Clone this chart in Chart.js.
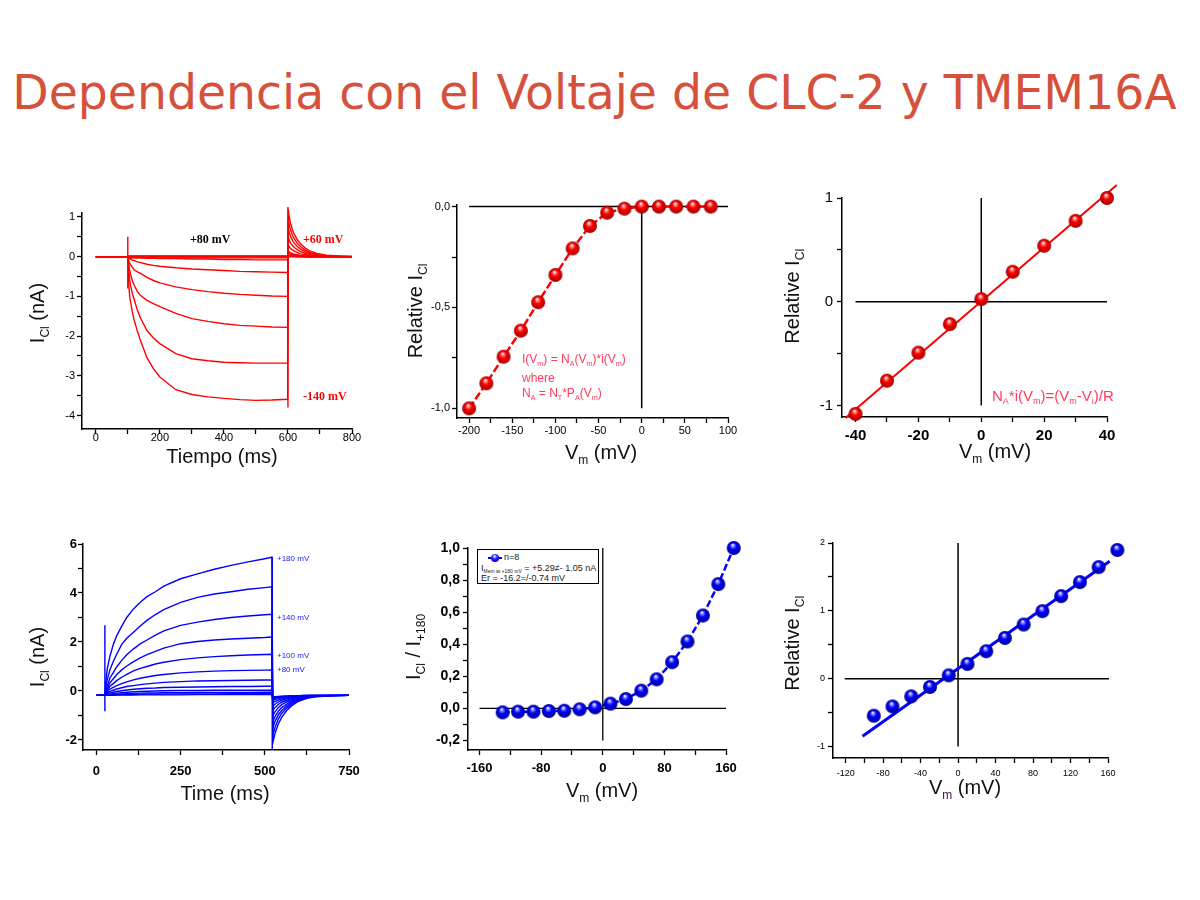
<!DOCTYPE html>
<html lang="es">
<head>
<meta charset="utf-8">
<title>Dependencia con el Voltaje de CLC-2 y TMEM16A</title>
<script src="https://cdn.jsdelivr.net/npm/chart.js@4.4.1/dist/chart.umd.min.js"></script>
<style>
  body { margin: 0; background: #fff; }
  #slide { position: relative; width: 1200px; height: 900px; overflow: hidden; font-family: "Liberation Sans", Arial, sans-serif; color: #111; }
  #slide h1 { position: absolute; left: 0; top: 69px; width: 1189px; margin: 0; text-align: center; font: normal 47.3px/48px "DejaVu Sans", sans-serif; color: #d6513c; white-space: nowrap; }
  canvas { position: absolute; }
  .t { position: absolute; z-index: 2; white-space: nowrap; font-size: 20px; line-height: 20px; transform: translate(-50%, -50%); }
  .t.rot { transform: translate(-50%, -50%) rotate(-90deg); }
  sub { font-size: 0.6em; vertical-align: -0.4em; line-height: 0; }
  .note { position: absolute; z-index: 2; white-space: nowrap; line-height: 1; transform: translateY(-50%); }
  .serif { font: bold 12px "Liberation Serif", "Times New Roman", serif; }
  .pink { color: #ff3a5a; }
  .tag { font-size: 8px; color: #2020ff; }
  #legend { position: absolute; z-index: 2; left: 477px; top: 549px; width: 120px; height: 33px; border: 1.5px solid #000; background: #fff; font-size: 9px; color: #222; }
  #legend .row { position: absolute; left: 3px; white-space: nowrap; line-height: 1; }
  #legend .ln { position: absolute; left: 10px; top: 7px; width: 14px; height: 2px; background: #0000ff; }
  #legend .bl { position: absolute; left: 13px; top: 4px; width: 8px; height: 8px; border-radius: 50%; background: radial-gradient(circle at 45% 30%, #fff 0, #4040ff 30%, #0000e0 60%, #000090 100%); }
</style>
</head>
<body>
<div id="slide">
  <h1>Dependencia con el Voltaje de CLC-2 y TMEM16A</h1>

  <!-- panel 1 -->
  <div class="t rot" style="left:37px;top:313px">I<sub>Cl</sub> (nA)</div>
  <div class="t" style="left:222px;top:456px">Tiempo (ms)</div>
  <div class="note serif" style="left:190px;top:239px;color:#000">+80 mV</div>
  <div class="note serif" style="left:303px;top:239px;color:#ff0000">+60 mV</div>
  <div class="note serif" style="left:303px;top:396px;color:#ff0000">-140 mV</div>

  <!-- panel 2 -->
  <div class="t rot" style="left:415px;top:311px">Relative I<sub>Cl</sub></div>
  <div class="t" style="left:601px;top:452px">V<sub>m</sub> (mV)</div>
  <div class="note pink" style="left:522px;top:359px;font-size:12px">I(V<sub>m</sub>) = N<sub>A</sub>(V<sub>m</sub>)*i(V<sub>m</sub>)</div>
  <div class="note pink" style="left:522px;top:378px;font-size:12px">where</div>
  <div class="note pink" style="left:522px;top:393px;font-size:12px">N<sub>A</sub> = N<sub>T</sub>*P<sub>A</sub>(V<sub>m</sub>)</div>

  <!-- panel 3 -->
  <div class="t rot" style="left:792px;top:296px">Relative I<sub>CI</sub></div>
  <div class="t" style="left:995px;top:451px">V<sub>m</sub> (mV)</div>
  <div class="note pink" style="left:992px;top:395px;font-size:15px">N<sub>A</sub>*i(V<sub>m</sub>)=(V<sub>m</sub>-V<sub>i</sub>)/R</div>

  <!-- panel 4 -->
  <div class="t rot" style="left:37px;top:657px">I<sub>Cl</sub> (nA)</div>
  <div class="t" style="left:225px;top:793px">Time (ms)</div>
  <div class="note tag" style="left:277px;top:559px">+180 mV</div>
  <div class="note tag" style="left:277px;top:618px">+140 mV</div>
  <div class="note tag" style="left:277px;top:656px">+100 mV</div>
  <div class="note tag" style="left:277px;top:670px">+80 mV</div>

  <!-- panel 5 -->
  <div class="t rot" style="left:413px;top:647px">I<sub>Cl</sub> / I<sub>+180</sub></div>
  <div class="t" style="left:602px;top:790px">V<sub>m</sub> (mV)</div>
  <div id="legend">
    <div class="ln"></div><div class="bl"></div>
    <div class="row" style="left:26px;top:3px">n=8</div>
    <div class="row" style="top:14px">I<sub style="font-size:5px">Mem at +180 mV</sub> = +5.29&#8800;- 1.05 nA</div>
    <div class="row" style="top:24px">Er = -16.2=/-0.74 mV</div>
  </div>

  <!-- panel 6 -->
  <div class="t rot" style="left:792px;top:643px">Relative I<sub>CI</sub></div>
  <div class="t" style="left:965px;top:787px">V<sub style="color:#3a1040">m</sub> (mV)</div>
</div>

<script>
// ---------- panel 1: CLC-2 current traces (nA) ----------
const p1TimeMs = [0, 100, 103, 106, 110, 115, 120, 130, 140, 160, 180, 200, 250, 300, 350, 400, 450, 500, 550, 599,
  601, 604, 608, 614, 620, 630, 640, 655, 670, 690, 720, 760, 800];
const p1I_m140 = [0, 0, -0.7, -1.0, -1.2, -1.42, -1.6, -1.88, -2.12, -2.55, -2.82, -3.03, -3.35, -3.47, -3.53, -3.57, -3.6, -3.62, -3.61, -3.59,
  1.2, 1.0, 0.84, 0.68, 0.56, 0.42, 0.32, 0.21, 0.14, 0.08, 0.04, 0.02, 0.01];
const p1I_m120 = [0, 0, -0.35, -0.6, -0.78, -0.95, -1.08, -1.35, -1.55, -1.86, -2.05, -2.19, -2.44, -2.57, -2.62, -2.66, -2.67, -2.68, -2.68, -2.68,
  0.95, 0.8, 0.67, 0.54, 0.45, 0.33, 0.25, 0.16, 0.1, 0.06, 0.03, 0.01, 0];
const p1I_m100 = [0, 0, -0.2, -0.35, -0.48, -0.62, -0.72, -0.88, -0.98, -1.1, -1.18, -1.26, -1.43, -1.56, -1.63, -1.69, -1.73, -1.75, -1.77, -1.78,
  0.72, 0.61, 0.51, 0.41, 0.34, 0.25, 0.19, 0.12, 0.08, 0.05, 0.02, 0.01, 0];
const p1I_m80 = [0, 0, -0.1, -0.17, -0.22, -0.28, -0.33, -0.38, -0.42, -0.52, -0.6, -0.66, -0.76, -0.83, -0.88, -0.92, -0.95, -0.97, -0.99, -1.0,
  0.5, 0.42, 0.35, 0.28, 0.23, 0.17, 0.13, 0.08, 0.05, 0.03, 0.01, 0, 0];
const p1I_m60 = [0, 0, -0.03, -0.05, -0.07, -0.09, -0.1, -0.13, -0.15, -0.19, -0.22, -0.24, -0.28, -0.31, -0.33, -0.35, -0.37, -0.38, -0.39, -0.4,
  0.3, 0.25, 0.21, 0.17, 0.14, 0.1, 0.07, 0.05, 0.03, 0.02, 0.01, 0, 0];
const p1I_m40 = [0, 0, -0.01, -0.01, -0.02, -0.02, -0.02, -0.03, -0.03, -0.04, -0.04, -0.05, -0.05, -0.06, -0.06, -0.07, -0.07, -0.08, -0.08, -0.08,
  0.15, 0.12, 0.1, 0.08, 0.06, 0.05, 0.03, 0.02, 0.01, 0.01, 0, 0, 0];
const p1I_m20 = [0, 0, -0.03, -0.03, -0.03, -0.03, -0.03, -0.03, -0.03, -0.03, -0.03, -0.03, -0.03, -0.03, -0.03, -0.03, -0.03, -0.03, -0.03, -0.03,
  0.1, 0.08, 0.06, 0.05, 0.04, 0.03, 0.02, 0.01, 0, 0, 0, 0, 0];
const p1I_0 = [0, 0, -0.01, -0.01, -0.01, -0.01, -0.01, -0.01, -0.01, -0.01, -0.01, -0.01, -0.01, -0.01, -0.01, -0.01, -0.01, -0.01, -0.01, -0.01,
  0.06, 0.05, 0.04, 0.03, 0.02, 0.02, 0.01, 0, 0, 0, 0, 0, 0];
const p1I_p40 = [0, 0, 0.01, 0.01, 0.01, 0.01, 0.01, 0.01, 0.01, 0.01, 0.01, 0.01, 0.01, 0.01, 0.01, 0.01, 0.01, 0.01, 0.01, 0.01,
  0.03, 0.02, 0.02, 0.01, 0.01, 0, 0, 0, 0, 0, 0, 0, 0];
const p1I_p80 = [0, 0, 0.02, 0.02, 0.02, 0.02, 0.02, 0.02, 0.02, 0.02, 0.02, 0.02, 0.02, 0.02, 0.02, 0.02, 0.02, 0.02, 0.02, 0.02,
  0.01, 0, 0, 0, 0, 0, 0, 0, 0, 0, 0, 0, 0];
const p1SpikeOnMs = [100, 100], p1SpikeOnI = [0.5, -0.8];
const p1SpikeOffMs = [600, 600], p1SpikeOffI = [1.25, -3.8];
const p1XTicks = [0, 200, 400, 600, 800], p1XLabels = ['0', '200', '400', '600', '800'], p1XMinor = [100, 300, 500, 700];
const p1YTicks = [1, 0, -1, -2, -3, -4], p1YLabels = ['1', '0', '-1', '-2', '-3', '-4'], p1YMinor = [0.5, -0.5, -1.5, -2.5, -3.5];

// ---------- panel 2: CLC-2 relative I-V ----------
const p2Vm = [-200, -180, -160, -140, -120, -100, -80, -60, -40, -20, 0, 20, 40, 60, 80];
const p2RelI = [-1.0, -0.876, -0.744, -0.615, -0.474, -0.339, -0.207, -0.096, -0.03, -0.01, 0, 0, 0, 0, 0];
const p2ZeroHx = [-200, 100], p2ZeroHy = [0, 0];
const p2ZeroVx = [0, 0], p2ZeroVy = [0, -1];
const p2XTicks = [-200, -150, -100, -50, 0, 50, 100], p2XLabels = ['-200', '-150', '-100', '-50', '0', '50', '100'];
const p2XMinor = [-175, -125, -75, -25, 25, 75];
const p2YTicks = [0, -0.5, -1], p2YLabels = ['0,0', '-0,5', '-1,0'], p2YMinor = [-0.25, -0.75];

// ---------- panel 3: CLC-2 single-channel relative I-V ----------
const p3Vm = [-40, -30, -20, -10, 0, 10, 20, 30, 40];
const p3RelI = [-1.08, -0.76, -0.49, -0.215, 0.026, 0.29, 0.54, 0.78, 1.0];
const p3FitVm = [-43.2, 43.1], p3FitI = [-1.12, 1.125];
const p3ZeroHx = [-40, 40], p3ZeroHy = [0, 0];
const p3ZeroVx = [0, 0], p3ZeroVy = [1, -1];
const p3XTicks = [-40, -20, 0, 20, 40], p3XLabels = ['-40', '-20', '0', '20', '40'], p3XMinor = [-30, -10, 10, 30];
const p3YTicks = [1, 0, -1], p3YLabels = ['1', '0', '-1'], p3YMinor = [0.5, -0.5];

// ---------- panel 4: TMEM16A current traces (nA) ----------
const p4TimeMs = [0, 25, 28, 32, 40, 50, 60, 75, 90, 110, 130, 150, 175, 200, 250, 300, 350, 400, 450, 500, 521,
  524, 530, 540, 550, 565, 580, 600, 625, 650, 700, 750];
const p4I_180 = [-0.18, -0.18, 0.4, 0.9, 1.42, 1.9, 2.25, 2.65, 3.0, 3.35, 3.62, 3.85, 4.05, 4.28, 4.58, 4.78, 4.97, 5.13, 5.27, 5.4, 5.46,
  -2.1, -1.75, -1.35, -1.08, -0.8, -0.6, -0.42, -0.3, -0.24, -0.2, -0.18];
const p4I_160 = [-0.18, -0.18, 0.2, 0.45, 0.87, 1.2, 1.5, 1.9, 2.15, 2.4, 2.65, 2.88, 3.12, 3.32, 3.62, 3.82, 3.96, 4.05, 4.15, 4.22, 4.25,
  -1.8, -1.5, -1.15, -0.92, -0.7, -0.53, -0.38, -0.28, -0.23, -0.19, -0.18];
const p4I_140 = [-0.18, -0.18, 0.05, 0.2, 0.53, 0.75, 0.98, 1.25, 1.48, 1.72, 1.92, 2.08, 2.28, 2.45, 2.68, 2.81, 2.92, 3.0, 3.06, 3.11, 3.13,
  -1.5, -1.25, -0.98, -0.8, -0.62, -0.47, -0.35, -0.26, -0.22, -0.19, -0.18];
const p4I_120 = [-0.18, -0.18, 0.0, 0.1, 0.33, 0.5, 0.66, 0.86, 1.02, 1.2, 1.35, 1.48, 1.62, 1.75, 1.93, 2.02, 2.08, 2.12, 2.15, 2.18, 2.2,
  -1.25, -1.05, -0.83, -0.68, -0.54, -0.42, -0.32, -0.25, -0.21, -0.19, -0.18];
const p4I_100 = [-0.18, -0.18, -0.05, 0.03, 0.19, 0.3, 0.42, 0.56, 0.68, 0.82, 0.92, 1.0, 1.1, 1.17, 1.28, 1.35, 1.4, 1.44, 1.47, 1.49, 1.5,
  -1.0, -0.85, -0.68, -0.56, -0.45, -0.36, -0.29, -0.23, -0.2, -0.19, -0.18];
const p4I_80 = [-0.18, -0.18, -0.1, -0.03, 0.08, 0.15, 0.22, 0.3, 0.37, 0.45, 0.52, 0.57, 0.63, 0.67, 0.74, 0.78, 0.81, 0.83, 0.84, 0.85, 0.86,
  -0.8, -0.68, -0.55, -0.46, -0.38, -0.31, -0.26, -0.22, -0.2, -0.19, -0.18];
const p4I_60 = [-0.18, -0.18, -0.12, -0.08, -0.02, 0.03, 0.08, 0.13, 0.18, 0.22, 0.26, 0.29, 0.32, 0.35, 0.38, 0.41, 0.42, 0.43, 0.44, 0.45, 0.45,
  -0.62, -0.54, -0.45, -0.38, -0.32, -0.27, -0.24, -0.21, -0.19, -0.18, -0.18];
const p4I_40 = [-0.18, -0.18, -0.15, -0.12, -0.08, -0.05, -0.02, 0.01, 0.04, 0.07, 0.09, 0.11, 0.12, 0.14, 0.15, 0.16, 0.17, 0.18, 0.18, 0.19, 0.19,
  -0.48, -0.43, -0.37, -0.32, -0.28, -0.24, -0.22, -0.2, -0.19, -0.18, -0.18];
const p4I_20 = [-0.18, -0.18, -0.17, -0.15, -0.13, -0.11, -0.09, -0.07, -0.05, -0.03, -0.02, -0.01, 0, 0.01, 0.02, 0.02, 0.03, 0.03, 0.03, 0.03, 0.03,
  -0.38, -0.35, -0.31, -0.28, -0.25, -0.22, -0.2, -0.19, -0.18, -0.18, -0.18];
const p4I_0 = [-0.18, -0.18, -0.17, -0.16, -0.15, -0.14, -0.13, -0.12, -0.11, -0.1, -0.09, -0.08, -0.08, -0.07, -0.07, -0.06, -0.06, -0.06, -0.06, -0.05, -0.05,
  -0.32, -0.3, -0.27, -0.25, -0.23, -0.21, -0.19, -0.18, -0.18, -0.18, -0.18];
const p4I_m20 = [-0.18, -0.18, -0.18, -0.17, -0.17, -0.16, -0.16, -0.15, -0.15, -0.14, -0.14, -0.13, -0.13, -0.13, -0.12, -0.12, -0.12, -0.11, -0.11, -0.11, -0.11,
  -0.28, -0.26, -0.24, -0.22, -0.21, -0.2, -0.19, -0.18, -0.18, -0.18, -0.18];
const p4I_m40 = [-0.18, -0.18, -0.18, -0.18, -0.18, -0.18, -0.17, -0.17, -0.17, -0.17, -0.16, -0.16, -0.16, -0.16, -0.16, -0.15, -0.15, -0.15, -0.15, -0.15, -0.15,
  -0.24, -0.23, -0.22, -0.21, -0.2, -0.19, -0.19, -0.18, -0.18, -0.18, -0.18];
const p4SpikeOnMs = [25, 25], p4SpikeOnI = [2.68, -0.83];
const p4SpikeOffMs = [522, 522], p4SpikeOffI = [5.46, -2.4];
const p4XTicks = [0, 250, 500, 750], p4XLabels = ['0', '250', '500', '750'], p4XMinor = [125, 375, 625];
const p4YTicks = [6, 4, 2, 0, -2], p4YLabels = ['6', '4', '2', '0', '-2'], p4YMinor = [5, 3, 1, -1];

// ---------- panel 5: TMEM16A normalised I-V ----------
const p5Vm = [-130, -110, -90, -70, -50, -30, -10, 10, 30, 50, 70, 90, 110, 130, 150, 170];
const p5RelI = [-0.025, -0.021, -0.021, -0.017, -0.015, -0.006, 0.006, 0.029, 0.058, 0.11, 0.181, 0.288, 0.417, 0.579, 0.775, 1.0];
const p5ZeroHx = [-160, 160], p5ZeroHy = [0, 0];
const p5ZeroVx = [0, 0], p5ZeroVy = [1.0, -0.2];
const p5XTicks = [-160, -80, 0, 80, 160], p5XLabels = ['-160', '-80', '0', '80', '160'], p5XMinor = [-120, -40, 40, 120];
const p5YTicks = [1.0, 0.8, 0.6, 0.4, 0.2, 0, -0.2], p5YLabels = ['1,0', '0,8', '0,6', '0,4', '0,2', '0,0', '-0,2'];
const p5YMinor = [0.9, 0.7, 0.5, 0.3, 0.1, -0.1];

// ---------- panel 6: TMEM16A relative I-V with linear fit ----------
const p6Vm = [-90, -70, -50, -30, -10, 10, 30, 50, 70, 90, 110, 130, 150, 170];
const p6RelI = [-0.547, -0.409, -0.261, -0.123, 0.049, 0.217, 0.404, 0.601, 0.798, 0.995, 1.217, 1.424, 1.645, 1.897];
const p6FitVm = [-102, 161.8], p6FitI = [-0.85, 1.73];
const p6ZeroHx = [-121, 161], p6ZeroHy = [0, 0];
const p6ZeroVx = [0, 0], p6ZeroVy = [2, -1];
const p6XTicks = [-120, -80, -40, 0, 40, 80, 120, 160], p6XLabels = ['-120', '-80', '-40', '0', '40', '80', '120', '160'];
const p6XMinor = [-100, -60, -20, 20, 60, 100, 140];
const p6YTicks = [2, 1, 0, -1], p6YLabels = ['2', '1', '0', '-1'], p6YMinor = [1.5, 0.5, -0.5];

// ---------- helpers ----------
const RED = '#ff0000', BLUE = '#0000ff';
const SANS = '"Liberation Sans", Arial, sans-serif';
const M = { YW: 50, XH: 34, PT: 14, PR: 26 };

function ball(r, hi, base, dark) {
  const c = document.createElement('canvas');
  const s = Math.ceil(2 * r + 2);
  c.width = c.height = s;
  const g = c.getContext('2d');
  const gr = g.createRadialGradient(s / 2 - r * 0.15, s / 2 - r * 0.45, r * 0.05, s / 2, s / 2, r);
  gr.addColorStop(0, '#ffffff');
  gr.addColorStop(0.18, hi);
  gr.addColorStop(0.45, base);
  gr.addColorStop(1, dark);
  g.fillStyle = gr;
  g.beginPath();
  g.arc(s / 2, s / 2, r, 0, Math.PI * 2);
  g.fill();
  return c;
}
const redBall = ball(7, '#ff8080', '#ff0000', '#a00000');
const blueBall = ball(7, '#8080ff', '#0000ff', '#000090');

const pts = (xs, ys) => xs.map((x, i) => ({ x, y: ys[i] }));

function line(xs, ys, color, width, extra) {
  return Object.assign({ data: pts(xs, ys), borderColor: color, borderWidth: width, pointRadius: 0, clip: false }, extra || {});
}

function markers(xs, ys, img, color, dash) {
  return {
    data: pts(xs, ys), borderColor: color, borderWidth: dash ? 2.5 : 0, borderDash: dash || [],
    showLine: !!dash, pointStyle: img, pointRadius: 14, pointBorderWidth: 0, clip: false
  };
}

function axis(isY, min, max, major, labels, minor, font, pad) {
  return {
    type: 'linear', bounds: 'data', min, max,
    afterBuildTicks: s => { s.ticks = major.concat(minor).sort((a, b) => a - b).map(v => ({ value: v })); },
    afterFit: s => { if (isY) s.width = M.YW; else s.height = M.XH; },
    ticks: {
      autoSkip: false, maxRotation: 0, minRotation: 0, padding: pad, color: '#000', font,
      callback: v => { const i = major.findIndex(m => Math.abs(m - v) < 1e-6); return i < 0 ? '' : labels[i]; }
    },
    grid: { drawOnChartArea: false, tickLength: 5, tickWidth: 1.3, tickColor: '#000' },
    border: { color: '#000', width: 1.5 }
  };
}

function panel(area, x, y, datasets) {
  const cv = document.createElement('canvas');
  cv.width = area.r - area.l + M.YW + M.PR;
  cv.height = area.b - area.t + M.PT + M.XH;
  cv.style.left = (area.l - M.YW) + 'px';
  cv.style.top = (area.t - M.PT) + 'px';
  document.getElementById('slide').appendChild(cv);
  return new Chart(cv, {
    type: 'line',
    data: { datasets },
    options: {
      responsive: false, animation: false, events: [],
      layout: { padding: { top: M.PT, right: M.PR, left: 0, bottom: 0 } },
      plugins: { legend: { display: false }, tooltip: { enabled: false } },
      scales: { x, y }
    }
  });
}

// ---------- panel 1 ----------
const p1Traces = [p1I_m140, p1I_m120, p1I_m100, p1I_m80, p1I_m60, p1I_m40, p1I_m20, p1I_0, p1I_p40, p1I_p80];
panel({ l: 82, r: 352, t: 213, b: 429 },
  axis(false, -43, 800, p1XTicks, p1XLabels, p1XMinor, { family: SANS, size: 11 }, -3),
  axis(true, -4.34, 1.1, p1YTicks, p1YLabels, p1YMinor, { family: SANS, size: 11 }, 2),
  p1Traces.map(v => line(p1TimeMs, v, RED, 1.4))
    .concat([line(p1SpikeOnMs, p1SpikeOnI, RED, 1.4), line(p1SpikeOffMs, p1SpikeOffI, RED, 1.4)]));

// ---------- panel 2 ----------
panel({ l: 457, r: 728, t: 205, b: 418 },
  axis(false, -214, 100, p2XTicks, p2XLabels, p2XMinor, { family: SANS, size: 11 }, 1),
  axis(true, -1.048, 0.008, p2YTicks, p2YLabels, p2YMinor, { family: SANS, size: 11 }, 2),
  [markers(p2Vm, p2RelI, redBall, RED, [8, 3]),
   line(p2ZeroHx, p2ZeroHy, '#000', 1.5), line(p2ZeroVx, p2ZeroVy, '#000', 1.5)]);

// ---------- panel 3 ----------
panel({ l: 842, r: 1107, t: 198, b: 417 },
  axis(false, -44.3, 40, p3XTicks, p3XLabels, p3XMinor, { family: SANS, size: 15, weight: 'bold' }, 5),
  axis(true, -1.11, 1.0, p3YTicks, p3YLabels, p3YMinor, { family: SANS, size: 15 }, 4),
  [markers(p3Vm, p3RelI, redBall, RED, null),
   line(p3FitVm, p3FitI, RED, 2),
   line(p3ZeroHx, p3ZeroHy, '#000', 1.5), line(p3ZeroVx, p3ZeroVy, '#000', 1.5)]);

// ---------- panel 4 ----------
const p4Traces = [p4I_180, p4I_160, p4I_140, p4I_120, p4I_100, p4I_80, p4I_60, p4I_40, p4I_20, p4I_0, p4I_m20, p4I_m40];
panel({ l: 83, r: 349, t: 544, b: 750 },
  axis(false, -40, 750, p4XTicks, p4XLabels, p4XMinor, { family: SANS, size: 13, weight: 'bold' }, 9),
  axis(true, -2.41, 6, p4YTicks, p4YLabels, p4YMinor, { family: SANS, size: 13, weight: 'bold' }, 1),
  p4Traces.map(v => line(p4TimeMs, v, BLUE, 1.4))
    .concat([line(p4SpikeOnMs, p4SpikeOnI, BLUE, 1.4), line(p4SpikeOffMs, p4SpikeOffI, BLUE, 1.4)]));

// ---------- panel 5 ----------
panel({ l: 468, r: 726, t: 548, b: 750 },
  axis(false, -175, 160, p5XTicks, p5XLabels, p5XMinor, { family: SANS, size: 13, weight: 'bold' }, 6),
  axis(true, -0.26, 1.0, p5YTicks, p5YLabels, p5YMinor, { family: SANS, size: 14, weight: 'bold' }, 3),
  [markers(p5Vm, p5RelI, blueBall, BLUE, [7, 3]),
   line(p5ZeroHx, p5ZeroHy, '#000', 1.3), line(p5ZeroVx, p5ZeroVy, '#000', 1.3)]);

// ---------- panel 6 ----------
panel({ l: 833, r: 1108, t: 543, b: 758 },
  axis(false, -133.5, 160, p6XTicks, p6XLabels, p6XMinor, { family: SANS, size: 9 }, 5),
  axis(true, -1.17, 2, p6YTicks, p6YLabels, p6YMinor, { family: SANS, size: 9 }, 3),
  [markers(p6Vm, p6RelI, blueBall, BLUE, null),
   line(p6FitVm, p6FitI, BLUE, 3),
   line(p6ZeroHx, p6ZeroHy, '#000', 1.5), line(p6ZeroVx, p6ZeroVy, '#000', 1.5)]);
</script>
</body>
</html>
